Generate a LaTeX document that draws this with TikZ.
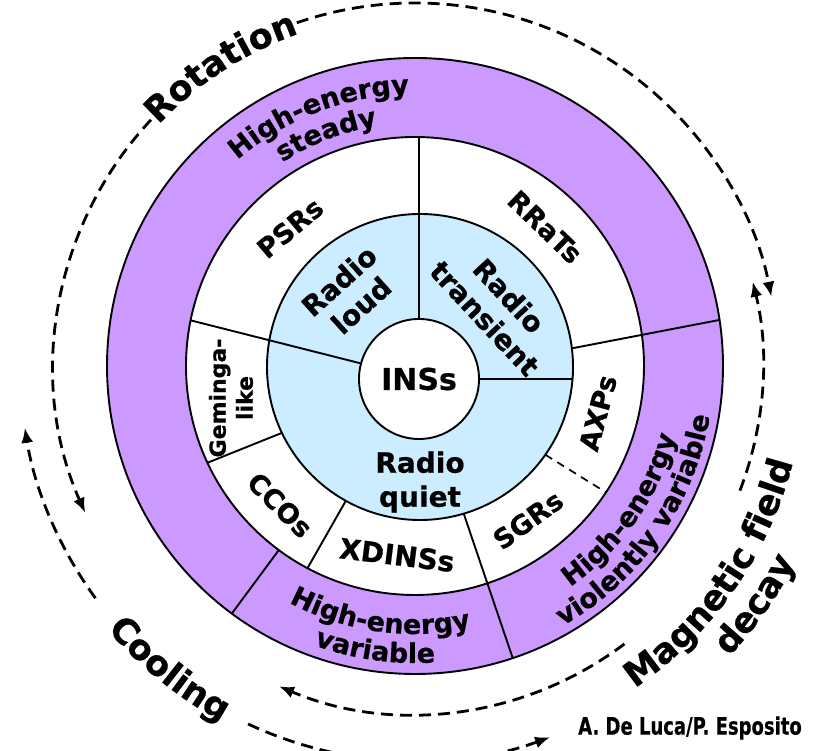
\documentclass[tikz,border=0pt]{standalone}
\usepackage{fontspec}
\setmainfont{DejaVu Sans}[BoldFeatures={FakeBold=0.6}]
\usetikzlibrary{arrows.meta,calc,decorations.text}
\definecolor{bandviolet}{RGB}{204,153,255}
\definecolor{radioblue}{RGB}{204,236,255}
\newcommand{\lblfont}[2]{\fontsize{#1}{#2}\selectfont\bfseries}

\begin{document}
\begin{tikzpicture}[x=1pt, y=1pt, >=Latex,
    every node/.style={font=\lblfont{27}{32}, align=center, inner sep=0pt},
    ring/.style={line width=1.9pt},
    divider/.style={line width=1.9pt},
    cycle/.style={line width=2.8pt, dash pattern=on 12pt off 7pt, -{Latex[length=15pt,width=12pt]}},
    bandtext/.style={decorate, decoration={text along path, text align=center, text={|\lblfont{27}{30}|#1}}},
    cycletext/.style={decorate, decoration={text along path, text align=center, text={|\lblfont{35}{40}|#1}}}]
\useasboundingbox (0,0) rectangle (825,751);
\coordinate (O) at (415,385);
\coordinate (Ib) at (420,384);

% rings
\filldraw[ring, fill=bandviolet] (O) circle (308);
\filldraw[ring, fill=white] (O) circle (229);
\filldraw[ring, fill=radioblue] (Ib) circle (153);
\node[circle, draw, ring, fill=white, minimum size=120pt, font=\lblfont{30}{34}] (ins) at (419,372) {INSs};

% dividers
\draw[divider] (ins.north) -- ($(O)+(89:229)$);
\draw[divider] (ins.east) -- ($(Ib)+(-4.5:153)$);
\draw[divider] (ins.165) -- ($(O)+(168.5:229)$);
\foreach \a/\b/\r in {7/8.6/308, 205.5/205/229, 241/242/229, 286.6/288.5/308}
    \draw[divider] ($(Ib)+(\a:153)$) -- ($(O)+(\b:\r)$);
\draw[divider] ($(O)+(233.5:229)$) -- ($(O)+(233.5:308)$);
\draw[line width=1.7pt, dash pattern=on 8pt off 6pt] ($(Ib)+(-35:153)$) -- ($(O)+(-33.5:229)$);

% inner labels
\node[rotate=42, font=\lblfont{28}{33}] (loud) at (350,458) {Radio\\loud};
\node[rotate=-47, font=\lblfont{28}{33}] (transient) at (497,444) {Radio\\transient};
\node[font=\lblfont{28}{34}] (quiet) at (420,269) {Radio\\quiet};
\node[rotate=40] (psr) at (290,523) {PSRs};
\node[rotate=-44] (rrat) at (545,524) {RRaTs};
\node[rotate=90, font=\lblfont{22}{27}] (gem) at (231,353) {Geminga-\\like};
\node[rotate=-45] (cco) at (280,246) {CCOs};
\node[rotate=-7, font=\lblfont{28}{32}] (xdins) at (397,196) {XDINSs};
\node[rotate=36] (sgr) at (528,231) {SGRs};
\node[rotate=75] (axp) at (598,338) {AXPs};

% band labels
\path[bandtext={High-energy}] ($(O)+(141:272)$) arc[start angle=141, end angle=81, radius=272];
\path[bandtext={steady}] ($(O)+(141:243)$) arc[start angle=141, end angle=81, radius=243];
\path[bandtext={High-energy}] ($(O)+(232:268)$) arc[start angle=232, end angle=292, radius=268];
\path[bandtext={variable}] ($(O)+(232:297)$) arc[start angle=232, end angle=292, radius=297];
\path[bandtext={High-energy}] ($(O)+(-70:270)$) arc[start angle=-70, end angle=0, radius=270];
\path[bandtext={violently variable}] ($(O)+(-70:299)$) arc[start angle=-70, end angle=0, radius=299];

% evolution paths
\path[cycletext={Rotation}] ($(O)+(150:352)$) arc[start angle=150, end angle=96, radius=352];
\path[cycletext={Cooling}] ($(O)+(206:405)$) arc[start angle=206, end angle=256, radius=405];
\path[cycletext={Magnetic field}] ($(O)+(-70:390)$) arc[start angle=-70, end angle=0, radius=390];
\path[cycletext={decay}] ($(O)+(-55:428)$) arc[start angle=-55, end angle=-15, radius=428];
\foreach \n/\s/\e/\r in {rotA/137/204/361, rotB/109/11/363, magA/-21/14/348, magB/-53/-113/348, coolA/216/189/395, coolB/245/290/395} {
    \coordinate (\n) at ($(O)+(\s:\r)$);
    \draw[cycle] (\n) arc[start angle=\s, end angle=\e, radius=\r];
}

\node[font=\lblfont{24}{28}] (credit) at (690,23) {\scalebox{0.75}[1]{A. De Luca/P. Esposito}};
\end{tikzpicture}
\end{document}
